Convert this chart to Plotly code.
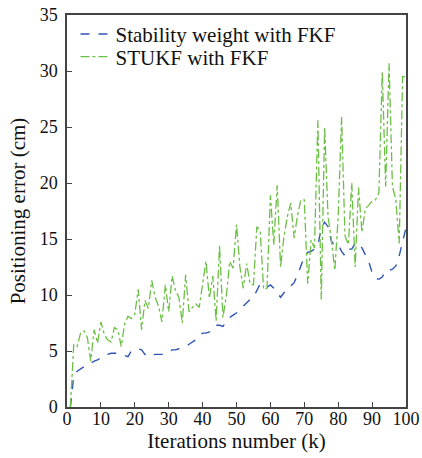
import plotly.graph_objects as go

k = list(range(1, 101))

stability_fkf = [
    0, 2.8, 3.2, 3.4, 3.6, 3.7, 3.9, 4.1, 4.2, 4.4,
    4.5, 4.7, 4.8, 4.8, 4.8, 4.7, 4.6, 4.5, 5.0, 5.1,
    5.2, 5.1, 4.7, 4.5, 4.6, 4.7, 4.7, 4.7, 4.8, 4.9,
    5.1, 5.1, 5.2, 5.3, 5.4, 5.6, 5.8, 6.0, 6.4, 6.6,
    6.6, 6.7, 7.0, 7.3, 7.3, 7.2, 7.6, 8.0, 8.2, 8.4,
    8.6, 9.0, 9.3, 9.6, 9.8, 10.4, 11.0, 10.8, 10.7, 10.9,
    10.6, 10.2, 9.8, 10.2, 10.6, 10.8, 11.1, 11.8, 12.7, 13.4,
    13.8, 13.9, 14.1, 14.4, 16.0, 16.5, 16.1, 14.8, 14.4, 14.5,
    13.9, 13.5, 14.1, 14.1, 14.6, 14.7, 14.2, 13.6, 13.0, 12.0,
    11.5, 11.4, 11.6, 12.2, 12.2, 12.3, 12.6, 13.5, 14.8, 16.0,
]

stukf_fkf = [
    0, 5.6, 5.4, 6.6, 6.8, 6.2, 4.1, 6.9, 5.7, 7.6,
    6.5, 6.0, 5.8, 7.1, 6.9, 5.4, 7.4, 8.1, 7.9, 8.3,
    10.5, 6.9, 9.5, 8.8, 11.3, 9.8, 9.0, 7.6, 10.9, 8.5,
    11.7, 10.4, 9.8, 7.5, 11.8, 8.5, 8.9, 9.2, 8.9, 11.0,
    13.0, 9.7, 11.7, 7.7, 14.4, 8.0, 9.9, 13.0, 12.4, 16.3,
    12.5, 10.6, 12.8, 11.0, 10.9, 16.1, 15.7, 10.5, 10.6, 18.9,
    14.5, 19.8, 12.5, 15.2, 17.0, 18.2, 15.1, 17.1, 18.5, 18.5,
    11.0, 14.9, 14.2, 25.6, 9.6, 25.0, 17.0, 14.9, 12.2, 17.0,
    25.9, 15.3, 14.5, 20.0, 12.5, 19.6, 15.6, 17.7, 18.0, 18.4,
    18.5, 19.1, 29.9, 19.7, 30.7, 19.7, 18.5, 14.6, 29.5, 29.5,
]

x_ticks = [0, 10, 20, 30, 40, 50, 60, 70, 80, 90, 100]
y_ticks = [0, 5, 10, 15, 20, 25, 30, 35]

FONT = "Liberation Serif"

fig = go.Figure()
fig.add_trace(go.Scatter(
    x=k, y=stability_fkf, mode="lines", name="Stability weight with FKF",
    line=dict(color="#2f56b5", width=1.4, dash="dash"), legend="legend",
))
fig.add_trace(go.Scatter(
    x=k, y=stukf_fkf, mode="lines", name="STUKF with FKF",
    line=dict(color="#6cbf45", width=1.3, dash="dashdot"), legend="legend2",
))

axis_common = dict(
    showgrid=False, zeroline=False, showline=True, linecolor="#444444",
    linewidth=1.5, mirror=True, ticks="inside", ticklen=5, tickwidth=1.2,
    tickcolor="#444444", tickfont=dict(family=FONT, size=18, color="#111111"),
    automargin=False,
)

legend_common = dict(
    xanchor="left", yanchor="top",
    bgcolor="rgba(255,255,255,0)", borderwidth=0,
    font=dict(family=FONT, size=21, color="#111111"),
    tracegroupgap=0, itemwidth=30,
)

fig.update_layout(
    width=422, height=458,
    margin=dict(l=67, r=16, t=15, b=51),
    paper_bgcolor="white", plot_bgcolor="white",
    font=dict(family=FONT, size=18, color="#111111"),
    showlegend=True,
    legend=dict(x=0.025, y=1.003, **legend_common),
    legend2=dict(x=0.025, y=0.945, **legend_common),
    xaxis=dict(
        range=[0, 100], tickvals=x_ticks, ticktext=[str(v) for v in x_ticks],
        title=dict(text="Iterations number (k)", font=dict(family=FONT, size=21), standoff=0),
        ticklabelstandoff=-5,
        **axis_common,
    ),
    yaxis=dict(
        range=[0, 35], tickvals=y_ticks, ticktext=[str(v) for v in y_ticks],
        title=dict(text="Positioning error (cm)", font=dict(family=FONT, size=21), standoff=8),
        ticklabelstandoff=4,
        **axis_common,
    ),
)

fig.write_html(
    "out.html",
    config={"displayModeBar": False},
    post_script="document.body.style.margin='0';document.body.style.overflow='hidden';",
)
